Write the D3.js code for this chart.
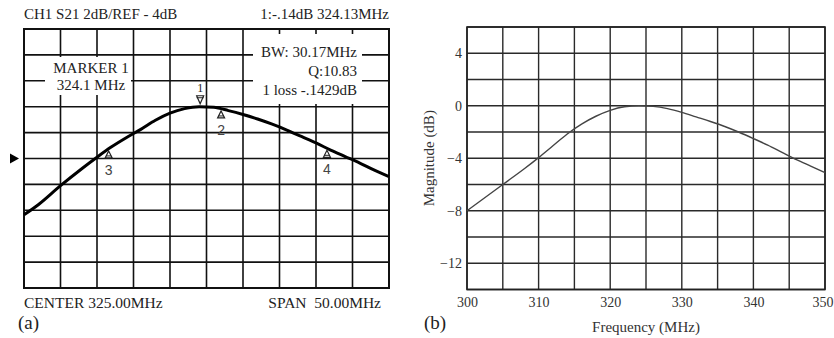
<!DOCTYPE html>
<html>
<head>
<meta charset="utf-8">
<script src="https://cdn.jsdelivr.net/npm/d3@7/dist/d3.min.js"></script>
<style>
	body { margin: 0; background: #fff; }
	svg text { font-family: "Liberation Serif", "Times New Roman", serif; }
</style>
</head>
<body>
<div id="chart"></div>
<script>
///////////////////////////////////////////////////////////////////////////
////////////////////////////// Data ///////////////////////////////////////
///////////////////////////////////////////////////////////////////////////

//Frequency points (MHz) shared by both traces
var freqs = [300, 302, 305, 308, 310, 312, 314, 316, 318, 320, 322, 324, 326, 328, 330, 332, 334, 336, 338, 340, 342, 344, 346, 348, 350];
//Analyzer trace (dB), panel a
var measuredDb = [-8.35, -7.55, -6.1, -4.75, -3.9, -3.1, -2.4, -1.75, -1.05, -0.5, -0.15, 0, -0.05, -0.3, -0.6, -0.95, -1.35, -1.8, -2.3, -2.8, -3.35, -3.85, -4.35, -4.9, -5.4];
//Plotted response (dB), panel b
var simulatedDb = [-8.0, -7.2, -6.0, -4.8, -3.95, -3.05, -2.15, -1.4, -0.8, -0.35, -0.08, 0, -0.05, -0.22, -0.5, -0.85, -1.2, -1.58, -2.02, -2.5, -3.0, -3.55, -4.1, -4.6, -5.1];

//Markers on the analyzer trace
var markerIds = ["1", "2", "3", "4"];
var markerFreqs = [324.13, 327.0, 311.6, 341.5];

//Tick labels of panel b
var xTickLabels = [300, 310, 320, 330, 340, 350];
var yTickLabels = [4, 0, -4, -8, -12];

//Analyzer screen annotations
var headerLeft = "CH1 S21 2dB/REF - 4dB",
	headerRight = "1:-.14dB 324.13MHz",
	markerBoxLines = ["MARKER 1", "324.1 MHz"],
	statsBoxLines = ["BW: 30.17MHz", "Q:10.83", "1 loss -.1429dB"],
	footerLeft = "CENTER 325.00MHz",
	footerRight = "SPAN  50.00MHz",
	refLevel = -4;

var gridFreqs = d3.range(300, 351, 5),
	gridDb = d3.range(-14, 7, 2);

///////////////////////////////////////////////////////////////////////////
////////////////////////////// Setup //////////////////////////////////////
///////////////////////////////////////////////////////////////////////////

var svg = d3.select("#chart").append("svg")
	.attr("width", 834)
	.attr("height", 338);

svg.append("rect").attr("width", 834).attr("height", 338).attr("fill", "#fff");

var measured = freqs.map(function(f, i) { return {f: f, db: measuredDb[i]}; }),
	simulated = freqs.map(function(f, i) { return {f: f, db: simulatedDb[i]}; });

//Linear lookup of the trace level at a frequency
function levelAt(f) {
	var i = d3.bisectLeft(freqs, f);
	if (i <= 0) return measuredDb[0];
	var t = (f - freqs[i-1]) / (freqs[i] - freqs[i-1]);
	return measuredDb[i-1] + t * (measuredDb[i] - measuredDb[i-1]);
}

///////////////////////////////////////////////////////////////////////////
///////////////////////// Panel a - analyzer screen ///////////////////////
///////////////////////////////////////////////////////////////////////////

var xA = d3.scaleLinear().domain([300, 350]).range([24, 389]),
	yA = d3.scaleLinear().domain([-14, 6]).range([288, 29]);

var panelA = svg.append("g").attr("class", "panelA");

//Graticule
panelA.selectAll(".vGrid")
	.data(gridFreqs)
	.enter().append("line")
	.attr("x1", function(d) { return xA(d); })
	.attr("x2", function(d) { return xA(d); })
	.attr("y1", yA(6))
	.attr("y2", yA(-14))
	.style("stroke", "#111")
	.style("stroke-width", 1.6);
panelA.selectAll(".hGrid")
	.data(gridDb)
	.enter().append("line")
	.attr("x1", xA(300))
	.attr("x2", xA(350))
	.attr("y1", function(d) { return yA(d); })
	.attr("y2", function(d) { return yA(d); })
	.style("stroke", "#111")
	.style("stroke-width", 1.6);
panelA.append("rect")
	.attr("x", xA(300))
	.attr("y", yA(6))
	.attr("width", xA(350) - xA(300))
	.attr("height", yA(-14) - yA(6))
	.attr("fill", "none")
	.style("stroke", "#111")
	.style("stroke-width", 2);

//White boxes behind the on-screen readouts
panelA.append("rect")
	.attr("x", 45).attr("y", 57)
	.attr("width", 86).attr("height", 38)
	.attr("fill", "#fff");
panelA.append("rect")
	.attr("x", 253).attr("y", 34)
	.attr("width", 109).attr("height", 70)
	.attr("fill", "#fff");

//Trace
var lineA = d3.line()
	.x(function(d) { return xA(d.f); })
	.y(function(d) { return yA(d.db); })
	.curve(d3.curveMonotoneX);

panelA.append("path")
	.datum(measured)
	.attr("d", lineA)
	.attr("fill", "none")
	.style("stroke", "#000")
	.style("stroke-width", 3)
	.style("stroke-linejoin", "round");

//Reference level arrow
var yRef = yA(refLevel);
panelA.append("path")
	.attr("d", "M10," + (yRef - 5) + "L19," + yRef + "L10," + (yRef + 5) + "Z")
	.attr("fill", "#000");

//Markers
markerIds.forEach(function(id, i) {
	var mx = xA(markerFreqs[i]),
		my = yA(levelAt(markerFreqs[i]));
	if (i === 0) {
		//Active marker: down triangle above the trace
		panelA.append("path")
			.attr("d", "M" + (mx - 3.5) + "," + (my - 11) + "L" + (mx + 3.5) + "," + (my - 11) + "L" + mx + "," + (my - 3) + "Z")
			.attr("fill", "#fff")
			.style("stroke", "#222")
			.style("stroke-width", 1.2);
		panelA.append("line")
			.attr("x1", mx - 3.5).attr("x2", mx + 3.5)
			.attr("y1", my - 9).attr("y2", my - 9)
			.style("stroke", "#222").style("stroke-width", 1);
		panelA.append("text")
			.attr("x", mx)
			.attr("y", my - 15)
			.style("text-anchor", "middle")
			.style("font-size", "12px")
			.attr("fill", "#222")
			.text(id);
	} else {
		panelA.append("path")
			.attr("d", "M" + mx + "," + (my + 2) + "L" + (mx + 3.5) + "," + (my + 9) + "L" + (mx - 3.5) + "," + (my + 9) + "Z")
			.attr("fill", "#fff")
			.style("stroke", "#222")
			.style("stroke-width", 1.2);
		panelA.append("line")
			.attr("x1", mx - 2.5).attr("x2", mx + 2.5)
			.attr("y1", my + 7).attr("y2", my + 7)
			.style("stroke", "#222").style("stroke-width", 1);
		panelA.append("text")
			.attr("x", mx)
			.attr("y", my + 26)
			.style("text-anchor", "middle")
			.style("font-family", "'Liberation Sans', Arial, sans-serif")
			.style("font-size", "14px")
			.attr("fill", "#444")
			.text(id);
	}
});

//Screen texts
panelA.append("text")
	.attr("x", 24).attr("y", 19)
	.style("font-size", "15px").attr("fill", "#222")
	.text(headerLeft);
panelA.append("text")
	.attr("x", 389).attr("y", 19)
	.style("text-anchor", "end")
	.style("font-size", "15px").attr("fill", "#222")
	.text(headerRight);

panelA.selectAll(".markerBoxText")
	.data(markerBoxLines)
	.enter().append("text")
	.attr("x", 91)
	.attr("y", function(d, i) { return 73 + i * 17; })
	.style("text-anchor", "middle")
	.style("font-size", "15px").attr("fill", "#222")
	.text(function(d) { return d; });

panelA.selectAll(".statsBoxText")
	.data(statsBoxLines)
	.enter().append("text")
	.attr("x", 357)
	.attr("y", function(d, i) { return 57 + i * 19; })
	.style("text-anchor", "end")
	.style("font-size", "15px").attr("fill", "#222")
	.text(function(d) { return d; });

panelA.append("text")
	.attr("x", 24).attr("y", 308)
	.style("font-size", "15.5px").attr("fill", "#222")
	.text(footerLeft);
panelA.append("text")
	.attr("x", 381).attr("y", 308)
	.style("text-anchor", "end")
	.style("white-space", "pre")
	.style("font-size", "15.5px").attr("fill", "#222")
	.text(footerRight);

panelA.append("text")
	.attr("x", 18).attr("y", 329)
	.style("font-size", "19px").attr("fill", "#222")
	.text("(a)");

///////////////////////////////////////////////////////////////////////////
///////////////////////// Panel b - magnitude plot ////////////////////////
///////////////////////////////////////////////////////////////////////////

var xB = d3.scaleLinear().domain([300, 350]).range([467, 825]),
	yB = d3.scaleLinear().domain([-14, 6]).range([289.5, 27]);

var panelB = svg.append("g").attr("class", "panelB");

panelB.selectAll(".vGrid")
	.data(gridFreqs)
	.enter().append("line")
	.attr("x1", function(d) { return xB(d); })
	.attr("x2", function(d) { return xB(d); })
	.attr("y1", yB(6))
	.attr("y2", yB(-14))
	.style("stroke", "#2a2a2a")
	.style("stroke-width", 1.4);
panelB.selectAll(".hGrid")
	.data(gridDb)
	.enter().append("line")
	.attr("x1", xB(300))
	.attr("x2", xB(350))
	.attr("y1", function(d) { return yB(d); })
	.attr("y2", function(d) { return yB(d); })
	.style("stroke", "#2a2a2a")
	.style("stroke-width", 1.4);
panelB.append("rect")
	.attr("x", xB(300))
	.attr("y", yB(6))
	.attr("width", xB(350) - xB(300))
	.attr("height", yB(-14) - yB(6))
	.attr("fill", "none")
	.style("stroke", "#222")
	.style("stroke-width", 1.6);

var lineB = d3.line()
	.x(function(d) { return xB(d.f); })
	.y(function(d) { return yB(d.db); })
	.curve(d3.curveMonotoneX);

panelB.append("path")
	.datum(simulated)
	.attr("d", lineB)
	.attr("fill", "none")
	.style("stroke", "#444")
	.style("stroke-width", 1.4);

//Axes (labels only, the grid does the rest)
var xAxisB = panelB.append("g")
	.attr("transform", "translate(0," + yB(-14) + ")")
	.call(d3.axisBottom(xB).tickValues(xTickLabels).tickSize(0).tickPadding(7.5).tickFormat(d3.format("d")));
var yAxisB = panelB.append("g")
	.attr("transform", "translate(" + xB(300) + ",0)")
	.call(d3.axisLeft(yB).tickValues(yTickLabels).tickSize(0).tickPadding(5).tickFormat(d3.format("d")));

[xAxisB, yAxisB].forEach(function(ax) {
	ax.select(".domain").remove();
	ax.selectAll("text")
		.style("font-family", "'Liberation Serif', 'Times New Roman', serif")
		.style("font-size", "14px")
		.attr("fill", "#333");
});

//Last frequency label sits flush against the page edge
xAxisB.selectAll(".tick text")
	.filter(function(d) { return d === xTickLabels[xTickLabels.length - 1]; })
	.style("text-anchor", "end")
	.attr("x", 8);

panelB.append("text")
	.attr("x", (xB(300) + xB(350)) / 2)
	.attr("y", 332)
	.style("text-anchor", "middle")
	.style("font-size", "15px").attr("fill", "#333")
	.text("Frequency (MHz)");
panelB.append("text")
	.attr("transform", "translate(434," + ((yB(6) + yB(-14)) / 2) + ") rotate(-90)")
	.style("text-anchor", "middle")
	.style("font-size", "15px").attr("fill", "#333")
	.text("Magnitude (dB)");

panelB.append("text")
	.attr("x", 424).attr("y", 329)
	.style("font-size", "19px").attr("fill", "#222")
	.text("(b)");
</script>
</body>
</html>
